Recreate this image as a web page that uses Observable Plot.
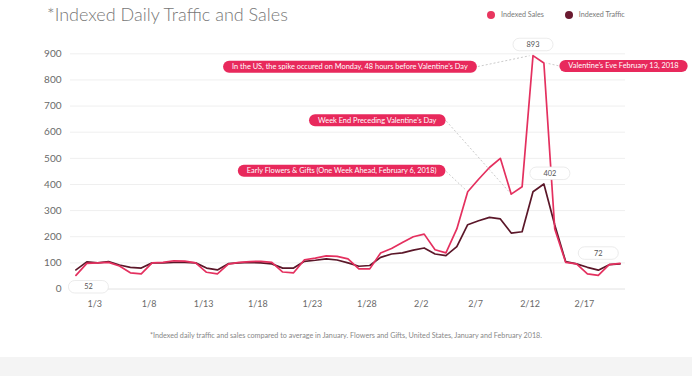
<!DOCTYPE html>
<html>
<head>
<meta charset="utf-8">
<script src="https://cdn.jsdelivr.net/npm/d3@7"></script>
<script src="https://cdn.jsdelivr.net/npm/@observablehq/plot@0.6"></script>
<style>
  html, body { margin: 0; padding: 0; background: #fff; }
  #wrap { position: relative; width: 692px; height: 376px; overflow: hidden; font-family: Lato, "Open Sans", sans-serif; }
  #chart { position: absolute; left: 0; top: 0; }
  #title { position: absolute; left: 47px; top: 3px; font-size: 18px; color: #777; font-weight: 300; white-space: nowrap; }
  #legend { position: absolute; left: 487px; top: 10px; font-size: 7.2px; color: #7a7a7a; display: flex; align-items: center; white-space: nowrap; }
  #legend .sw { display: inline-block; width: 8px; height: 8px; border-radius: 50%; margin-right: 6px; }
  #legend .item { display: flex; align-items: center; margin-right: 21px; }
  #foot { position: absolute; left: 150px; top: 331px; font-size: 7.2px; color: #888; white-space: nowrap; }
  #band { position: absolute; left: 0; top: 357px; width: 692px; height: 19px; background: #f4f4f4; }
</style>
</head>
<body>
<div id="wrap">
  <div id="chart"></div>
  <div id="title"></div>
  <div id="legend"></div>
  <div id="foot"></div>
  <div id="band"></div>
</div>
<script>
// ---------- data ----------
const startDate = "2018-01-01";
const endDate = "2018-02-21"; // exclusive
const sales = [52, 98, 100, 102, 88, 62, 58, 100, 102, 108, 107, 100, 64, 58, 95, 102, 105, 106, 102, 65, 62,
  112, 118, 127, 125, 115, 77, 77, 138, 155, 178, 200, 210, 150, 138, 230, 372, 420, 465, 500, 363, 391,
  893, 865, 230, 102, 96, 58, 52, 93, 98];
const traffic = [73, 104, 100, 105, 92, 83, 80, 100, 100, 102, 102, 100, 80, 73, 97, 100, 102, 100, 96, 80, 80,
  106, 110, 115, 111, 100, 87, 90, 121, 134, 138, 149, 157, 134, 128, 162, 246, 261, 274, 268, 214, 219,
  372, 402, 245, 105, 96, 83, 72, 93, 96];
const seriesNames = ["Indexed Sales", "Indexed Traffic"];
const yTicks = [0, 100, 200, 300, 400, 500, 600, 700, 800, 900];
const xTickDates = ["2018-01-03", "2018-01-08", "2018-01-13", "2018-01-18", "2018-01-23", "2018-01-28",
  "2018-02-02", "2018-02-07", "2018-02-12", "2018-02-17"];
const xTickLabels = ["1/3", "1/8", "1/13", "1/18", "1/23", "1/28", "2/2", "2/7", "2/12", "2/17"];
const titleText = "*Indexed Daily Traffic and Sales";
const footText = "*Indexed daily traffic and sales compared to average in January. Flowers and Gifts, United States, January and February 2018.";
// annotation pills: label position (date/value) and the point they refer to
const annotations = [
  {label: "In the US, the spike occured on Monday, 48 hours before Valentine’s Day", labelDate: "2018-02-06", labelValue: 850, anchor: "end", date: "2018-02-12", value: 893},
  {label: "Week End Preceding Valentine’s Day", labelDate: "2018-02-03T03:00", labelValue: 645, anchor: "end", date: "2018-02-10", value: 363},
  {label: "Early Flowers & Gifts (One Week Ahead, February 6, 2018)", labelDate: "2018-02-03T03:00", labelValue: 452, anchor: "end", date: "2018-02-06", value: 372},
  {label: "Valentine’s Eve February 13, 2018", labelDate: "2018-02-15T06:00", labelValue: 853, anchor: "start", date: "2018-02-13", value: 865}
];
// value call-outs: which point of which series
const callouts = [
  {date: "2018-02-12", series: "sales"},
  {date: "2018-02-13", series: "traffic"},
  {date: "2018-02-18", series: "traffic"},
  {date: "2018-01-01", series: "sales"}
];

// ---------- build ----------
const salesColor = "#e4305f";
const trafficColor = "#5b1729";
const pillColor = "#e8295c";

const dates = d3.utcDay.range(new Date(startDate), new Date(endDate));
const data = dates.map((d, i) => ({date: d, sales: sales[i], traffic: traffic[i]}));
const byTime = new Map(data.map(d => [+d.date, d]));
const calloutData = callouts.map(c => {
  const row = byTime.get(+new Date(c.date));
  return {date: row.date, value: row[c.series], text: String(row[c.series])};
});
const calloutOffsets = [[0, -11], [6, -10.5], [0, -17], [12.5, 11.5]];

const font = "Lato, 'Open Sans', sans-serif";
const chart = Plot.plot({
  width: 692,
  height: 376,
  marginLeft: 70,
  marginRight: 67,
  marginTop: 53.3,
  marginBottom: 87.5,
  style: {fontFamily: font, background: "transparent", overflow: "visible", color: "#666"},
  x: {type: "utc", domain: [new Date("2017-12-31T12:00Z"), new Date("2018-02-20T12:00Z")]},
  y: {domain: [0, 900]},
  marks: [
    Plot.ruleY(yTicks.slice(1), {stroke: "#efefef", strokeWidth: 1}),
    Plot.ruleY([0], {stroke: "#e2e2e2", strokeWidth: 1}),
    Plot.axisY({ticks: yTicks, tickSize: 0, tickPadding: 9, fontSize: 10, label: null, color: "#6a6a6a"}),
    Plot.axisX({ticks: xTickDates.map(d => new Date(d)), tickFormat: (d, i) => xTickLabels[i], tickSize: 0, tickPadding: 12, fontSize: 9, label: null, color: "#6a6a6a", dx: -3}),
    Plot.line(data, {x: "date", y: "traffic", stroke: trafficColor, strokeWidth: 1.7}),
    Plot.line(data, {x: "date", y: "sales", stroke: salesColor, strokeWidth: 1.7}),
    ...annotations.map(a => Plot.text([a], {
      x: d => new Date(d.labelDate), y: "labelValue", text: "label",
      textAnchor: a.anchor, fill: "white", fontSize: 7.4, fontFamily: font
    })),
    ...calloutData.map((c, i) => Plot.text([c], {
      x: "date", y: "value", text: "text", dx: calloutOffsets[i][0], dy: calloutOffsets[i][1],
      fill: "#555", fontSize: 7.4, fontFamily: font
    }))
  ]
});
document.getElementById("chart").append(chart);

// ---------- decorations drawn around the plotted text ----------
const NS = "http://www.w3.org/2000/svg";
function boxBehind(textEl, padX, h, minW, attrs) {
  const b = textEl.getBBox();
  const w = Math.max(b.width + 2 * padX, minW);
  const cx = b.x + b.width / 2, cy = b.y + b.height / 2;
  const r = document.createElementNS(NS, "rect");
  r.setAttribute("x", cx - w / 2);
  r.setAttribute("y", cy - h / 2);
  r.setAttribute("width", w);
  r.setAttribute("height", h);
  r.setAttribute("rx", h / 2);
  const tr = textEl.getAttribute("transform");
  if (tr) r.setAttribute("transform", tr);
  for (const k in attrs) r.setAttribute(k, attrs[k]);
  textEl.parentNode.insertBefore(r, textEl);
  return r;
}
const allText = [...chart.querySelectorAll("text")];
const sx = chart.scale("x"), sy = chart.scale("y");
const sb = chart.getBoundingClientRect();
const linkLayer = document.createElementNS(NS, "g");
chart.appendChild(linkLayer);
annotations.forEach(a => {
  const t = allText.find(e => e.textContent === a.label);
  if (!t) return;
  const r = boxBehind(t, 9, 12, 0, {fill: pillColor});
  const rb = r.getBoundingClientRect();
  const left = rb.left - sb.left, right = rb.right - sb.left, cy = rb.top - sb.top + rb.height / 2;
  const tx = sx.apply(new Date(a.date)), ty = sy.apply(a.value);
  const ex = tx > right ? right : left;
  const ddx = tx - ex, ddy = ty - cy, len = Math.hypot(ddx, ddy) || 1;
  const l = document.createElementNS(NS, "line");
  l.setAttribute("x1", ex + (ddx / len) * 1);
  l.setAttribute("y1", cy + (ddy / len) * 1);
  l.setAttribute("x2", tx - (ddx / len) * 3);
  l.setAttribute("y2", ty - (ddy / len) * 3);
  l.setAttribute("stroke", "#c4c4c4");
  l.setAttribute("stroke-width", 0.9);
  l.setAttribute("stroke-dasharray", "2,2");
  linkLayer.appendChild(l);
});
calloutData.forEach(c => {
  const t = allText.find(e => e.textContent === c.text && e.getAttribute("fill") !== "white");
  if (!t) return;
  boxBehind(t, 10, 12.5, 40, {fill: "white", stroke: "#e6e6e6", "stroke-width": 0.8});
});

// ---------- html text ----------
document.getElementById("title").textContent = titleText;
document.getElementById("foot").textContent = footText;
const legend = document.getElementById("legend");
[[seriesNames[0], "#e8365f"], [seriesNames[1], "#6a1a30"]].forEach(([name, col]) => {
  const item = document.createElement("span");
  item.className = "item";
  const sw = document.createElement("span");
  sw.className = "sw";
  sw.style.background = col;
  item.appendChild(sw);
  item.appendChild(document.createTextNode(name));
  legend.appendChild(item);
});
</script>
</body>
</html>
